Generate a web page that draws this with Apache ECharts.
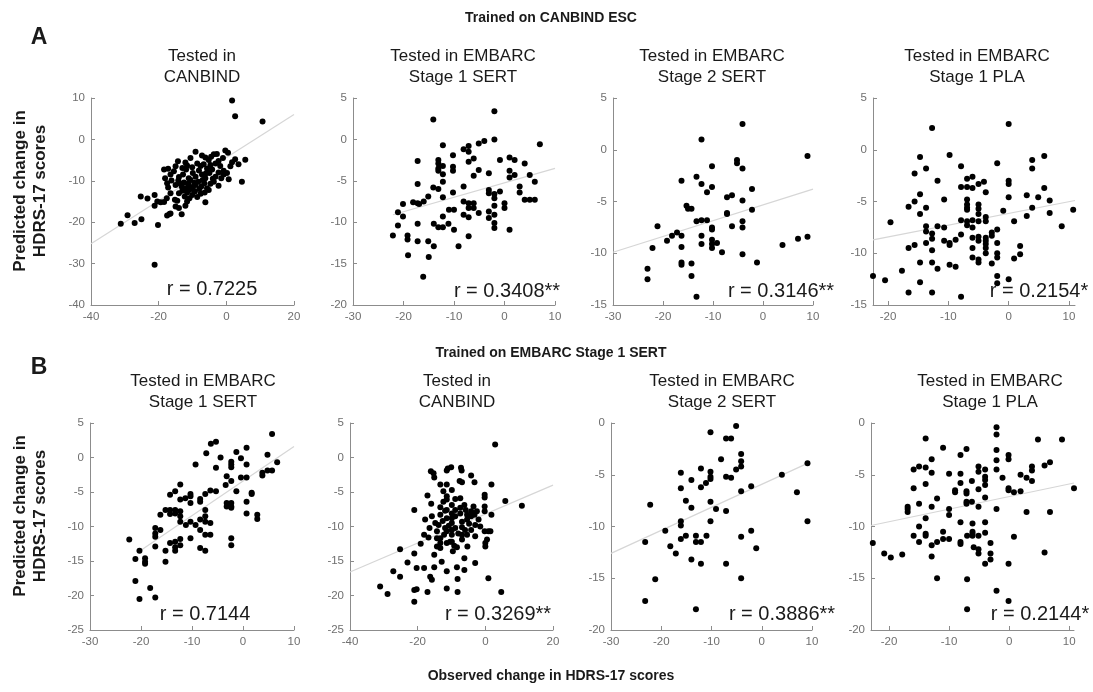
<!DOCTYPE html>
<html>
<head>
<meta charset="utf-8">
<script src="https://cdn.jsdelivr.net/npm/echarts@6/dist/echarts.min.js"></script>
<style>
html, body { margin: 0; padding: 0; background: #fff; }
#main { width: 1093px; height: 692px; }
</style>
</head>
<body>
<div id="main"></div>
<script>
// observed (x) vs predicted (y) change
var ptsA1 = [[1.7,9.4],[2.6,5.6],[10.7,4.3],[5.6,-4.9],[4.6,-10.2],[0.7,-9.6],[-21.2,-30.3],
  [-31.2,-20.4],[-29.2,-18.3],[-27.1,-20.2],[-25.1,-19.3],[-25.3,-13.8],[-23.3,-14.3],[-21.2,-13.4],[-21.2,-16],
  [-20.4,-15],[-19.4,-15.2],[-20.2,-20.7],[-18.4,-15.1],[-17.6,-14.2],[-17.5,-18.4],[-16.5,-17.9],[-13.2,-18.1],
  [-15,-16.2],[-14.5,-14.8],[-14,-13],[-14,-16.6],[-16.8,-18],[-11.6,-15],[-12.1,-16],
  [-9.1,-3.0],[-7.2,-3.9],[-6.2,-4.4],[-3.7,-3.6],[-0.3,-2.7],[0.5,-3.2],[-12.1,-5.6],[-10.6,-4.5],[-14.3,-5.3],
  [-5.2,-5.0],[-2.3,-5.2],[1.7,-5.5],[2.6,-4.8],[1.2,-6.5],
  [-17.2,-7.1],[-15,-6.5],[-13,-6.9],[-11.6,-6.3],[-10.1,-6.7],[-8.6,-5.8],[-7.6,-6.4],[-6.7,-6.0],[-5.7,-7.0],
  [-4.7,-6.2],[-3.2,-5.8],[-1.8,-6.4],[-0.8,-7.6],[0.2,-8.1],[3.6,-6.0],
  [-18.1,-9.4],[-16.5,-8.5],[-15.5,-7.7],[-14,-9.1],[-12.8,-8.5],[-11.9,-7.3],[-11.1,-9.4],[-9.9,-8.1],[-9.1,-9],
  [-8.1,-7.5],[-7.2,-8.5],[-6.2,-9.4],[-5,-8.1],[-4.2,-7.3],[-3.2,-9.0],[-2.3,-8],[-1.5,-9.4],[-0.8,-8.5],
  [-17.5,-10.6],[-16.2,-9.9],[-15,-11],[-14.2,-9.9],[-13.2,-11.4],[-12.5,-10.4],[-12,-11.8],[-11.3,-10.7],
  [-10.6,-9.8],[-9.9,-12],[-9.1,-11],[-8.3,-10.2],[-7.4,-11.4],[-6.5,-10.6],[-5.7,-11.8],[-4.7,-10.7],[-3.7,-10.2],
  [-2.3,-11.2],[-16.5,-13],[-15.2,-14.6],[-13,-12.4],[-12.3,-13.8],[-11.6,-12.8],[-10.9,-14.2],[-10.1,-13.4],
  [-9.3,-12.6],[-8.6,-13.9],[-7.6,-13.1],[-6.4,-12.8],[-5.2,-12.2],[-6.2,-15.2],
  [-10.5,-11.5],[-8,-12],[-11,-12.2],[-7,-9.8],[-4,-9.5],[-13.8,-10.6],[-9.5,-10.5],[-6,-8.2],[-1,-4.5],
  [-4.5,-4.2],[-2.8,-3.5],[-18.4,-7.3],[-17.2,-11.6]];
var ptsA2 = [[-22.1,-11.6],[-21.1,-8.8],[-21.1,-10.4],[-20.1,-7.8],[-20.1,-9.3],[-19.2,-11.6],[-19.2,-12.1],
  [-19.1,-14],[-18.1,-7.6],[-17.2,-2.6],[-17.2,-5.4],[-17.2,-7.7],[-17.2,-10.2],[-17.2,-12.3],[-16.9,-7.8],
  [-16,-7.5],[-16.1,-16.6],[-15.1,-6.9],[-15.1,-12.3],[-15,-14.2],[-14.1,2.4],[-14.1,-5.8],[-14,-10.2],[-14,-12.9],
  [-13.1,-2.5],[-13.1,-2.9],[-13.1,-3.5],[-13.1,-3.8],[-13.1,-6.0],[-13.1,-10.6],[-12.2,-0.7],[-12.2,-3.2],
  [-12.2,-4.2],[-12.2,-5.1],[-12.2,-7],[-12.2,-9.3],[-12.2,-10.6],[-11.1,-10.2],[-11,-8.5],[-10.2,-1.9],
  [-10.2,-3.3],[-10.2,-3.8],[-10.2,-6.4],[-10,-8.5],[-10,-10.9],[-9.1,-12.9],[-8.1,-5.7],[-8.1,-1.2],[-8.1,-7.5],
  [-8.1,-9.1],[-7.1,-0.8],[-7.1,-1.5],[-7.1,-2.7],[-7.1,-7.7],[-7.1,-8.3],[-7.1,-9.4],[-7.1,-11.7],[-6.1,-2.3],
  [-6.1,-4.4],[-6.1,-7.7],[-6.1,-8.3],[-5.1,-3.7],[-5.1,-8.9],[-5.1,-0.5],[-4,-0.2],[-3.1,-4.1],[-3.1,-6.1],
  [-3.1,-6.5],[-3.1,-8.7],[-3.1,-9.5],[-2,3.4],[-2,0],[-2,-6.6],[-2,-7.1],[-2,-8.0],[-2,-9.1],[-2,-10.1],[-2,-10.7],
  [-0.9,-6.3],[-0.9,-2.5],[0,-7.7],[0,-8.3],[1,-10.9],[1,-2.2],[1,-3.8],[1,-4.6],[2,-2.5],[2,-4.3],[3,-5.7],
  [3,-6.4],[4,-2.9],[4,-7.3],[5,-7.3],[6,-7.3],[6,-5.1],[7,-0.6],[5,-4.3]];
var ptsA3 = [[-23.1,-11.5],[-23.1,-12.5],[-22.1,-9.5],[-21.1,-7.4],[-19.2,-8.8],[-18.2,-8.3],[-17.2,-8.0],
  [-16.3,-3.0],[-16.3,-8.3],[-16.3,-9.4],[-16.3,-10.9],[-16.3,-11.1],[-15.3,-5.4],[-15,-5.7],[-14.3,-5.7],
  [-14.3,-11],[-14.3,-12.2],[-13.3,-2.6],[-13.3,-6.9],[-13.3,-14.2],[-12.3,1.0],[-12.3,-3.3],[-12.3,-6.8],
  [-12.3,-8.3],[-12.3,-9.1],[-11.2,-6.8],[-11.2,-4.1],[-10.2,-3.6],[-10.2,-1.6],[-10.2,-7.5],[-10.2,-7.7],
  [-10.2,-8.7],[-10.2,-9.1],[-10.2,-9.5],[-9.2,-9.0],[-8.2,-9.9],[-7.2,-4.6],[-7.2,-6.1],[-7.2,-6.2],[-6.2,-4.4],
  [-6.2,-7.4],[-5.2,-1.0],[-5.2,-1.3],[-4.1,-1.8],[-4.1,-4.9],[-4.1,-6.9],[-4.1,-7.5],[-4.1,-10.1],[-2.2,-3.8],
  [-2.2,-5.8],[-1.2,-10.9],[3.9,-9.2],[7,-8.6],[8.9,-8.4],[8.9,-0.6],[-4.1,2.5]];
var ptsA4 = [[-22.5,-12.2],[-20.5,-12.6],[-19.6,-7.0],[-17.7,-11.7],[-16.6,-5.5],[-16.6,-9.5],[-16.6,-13.8],
  [-15.6,-2.3],[-15.6,-5.0],[-15.6,-9.2],[-14.7,-0.7],[-14.7,-4.3],[-14.7,-6.2],[-14.7,-10.9],[-14.7,-12.8],
  [-13.7,-1.8],[-13.7,-5.6],[-13.7,-7.4],[-13.7,-7.9],[-13.7,-9.0],[-12.7,2.1],[-12.7,-8.1],[-12.7,-8.6],
  [-12.7,-9.7],[-12.7,-10.9],[-12.7,-13.8],[-11.8,-3.0],[-11.8,-7.4],[-11.8,-11.5],[-10.7,-4.8],[-10.7,-7.5],
  [-10.7,-8.8],[-9.8,-0.5],[-9.8,-9.0],[-9.8,-9.2],[-9.8,-11.1],[-8.8,-8.7],[-8.8,-11.3],[-7.9,-1.6],[-7.9,-3.6],
  [-7.9,-6.8],[-7.9,-8.2],[-7.9,-14.2],[-6.9,-2.8],[-6.9,-3.6],[-6.9,-4.8],[-6.9,-5.3],[-6.9,-5.6],[-6.9,-5.8],
  [-6.9,-6.9],[-6.9,-7.3],[-6,-2.6],[-6,-3.7],[-6,-6.8],[-6,-7.5],[-6,-8.5],[-6,-9.5],[-6,-10.4],[-5,-3.3],
  [-5,-5.3],[-5,-5.7],[-5,-6.2],[-5,-6.9],[-5,-8.4],[-5,-8.8],[-5,-10.6],[-5,-10.9],[-4.1,-3.1],[-3.8,-4.1],
  [-3.8,-6.5],[-3.8,-6.9],[-3.8,-8.5],[-3.8,-8.8],[-3.8,-9.1],[-3.8,-9.5],[-3.8,-10.0],[-2.8,-8.0],[-2.8,-8.3],
  [-2.8,-11.0],[-1.9,-1.3],[-1.9,-7.7],[-1.9,-9.0],[-1.9,-10.0],[-1.9,-10.4],[-1.9,-12.2],[-1.9,-12.9],
  [-0.9,-5.9],[0,2.5],[0,-3.0],[0,-3.3],[0,-4.6],[0,-12.5],[0.9,-6.9],[0.9,-10.5],[1.9,-10.1],[1.9,-9.3],
  [3,-4.4],[3,-6.4],[3.9,-5.6],[3.9,-1.0],[3.9,-1.8],[4.9,-4.6],[5.9,-0.6],[5.9,-3.7],[6.8,-4.9],[6.8,-6.1],
  [8.8,-7.4],[10.7,-5.8]];
var ptsB1 = [[-22.3,-11.9],[-21.1,-14.7],[-21.1,-17.9],[-20.3,-13.5],[-20.3,-20.5],[-19.2,-14.6],[-19.2,-15.1],
  [-19.2,-15.4],[-18.2,-18.9],[-17.2,-20.3],[-17.2,-10.2],[-17.2,-11],[-17.2,-11.5],[-17.2,-12.9],[-16.2,-10.5],
  [-16.2,-8.3],[-15.2,-7.6],[-15.2,-13.5],[-15.2,-15.1],[-14.3,-5.4],[-14.3,-7.6],[-14.3,-8.2],[-14.3,-12.4],
  [-13.3,-4.9],[-13.3,-7.6],[-13.3,-8.1],[-13.3,-12.2],[-13.3,-13],[-13.3,-13.5],[-12.3,-3.9],[-12.3,-6.1],
  [-12.3,-7.8],[-12.3,-8.5],[-12.3,-9.3],[-12.3,-11.8],[-12.3,-12.7],[-11.3,-5.9],[-11.2,-9.8],[-10.3,-5.3],
  [-10.3,-5.6],[-10.3,-6.6],[-10.3,-9.3],[-10.3,-11.7],[-9.3,-1.0],[-9.3,-9.8],[-8.4,-6],[-8.4,-6.4],[-8.4,-9.0],
  [-8.4,-10.5],[-8.4,-13.1],[-7.4,-5.3],[-7.4,-7.6],[-7.4,-8.5],[-7.4,-9.3],[-7.4,-11.2],[-7.4,-13.5],[-7.2,0.6],
  [-6.4,-4.8],[-6.4,-9.5],[-6.4,-11.2],[-6.3,2],[-5.3,2.3],[-5.3,-1.5],[-5.3,-4.9],[-4.4,0],[-3.4,-4.0],
  [-3.2,-2.7],[-3.2,-6.6],[-3.2,-7.1],[-2.3,-0.6],[-2.3,-1],[-2.3,-1.4],[-2.3,-3.4],[-2.3,-6.6],[-2.3,-7.1],
  [-2.3,-7.3],[-2.3,-11.7],[-2.3,-12.7],[-1.3,0.8],[-1.3,-4.9],[-0.4,-0.1],[-0.4,-2.9],[0.7,1.4],[0.7,-1],
  [0.7,-2.9],[0.7,-6.4],[0.7,-8.1],[1.7,-5.1],[1.7,-5.3],[2.8,-8.3],[2.8,-8.9],[3.8,-2.2],[3.8,-2.6],[4.8,0.4],
  [4.8,-1.9],[5.7,3.4],[5.7,-1.9],[6.7,-0.7]];
var ptsB2 = [[-31.1,-18.7],[-28.9,-19.8],[-25.2,-13.3],[-27.2,-16.5],[-25.2,-17.3],[-23,-15.2],[-21,-7.6],
  [-21,-13.9],[-21,-19.2],[-20.3,-19.1],[-21,-20.9],[-20.3,-16.0],[-19.1,-12.5],[-18.1,-16],[-18.1,-11.2],
  [-17.1,-19.5],[-17.1,-5.5],[-16.8,-11.6],[-16.3,-17.3],[-15.8,-17.7],[-16.1,-2],[-15.3,-2.3],[-15.1,-2.9],
  [-15.1,-14.1],[-15.1,-15.9],[-16.0,-6.7],[-15.8,-8.5],[-14.8,-9.5],[-14.3,-10.7],[-14.3,-11.7],[-14.3,-12.9],
  [-13.3,-3.9],[-13.3,-7.2],[-13.3,-8.3],[-13.3,-11.7],[-13.3,-12.4],[-13.3,-13.1],[-12.9,-15.1],[-12.4,-4.9],
  [-12.4,-6.4],[-11.9,-7.7],[-11.9,-10.2],[-11.4,-1.9],[-11.1,-1.6],[-11.4,-3.9],[-11.4,-5.6],[-11.4,-6.1],
  [-11.4,-7.6],[-11.4,-8.8],[-11.4,-10.7],[-11.4,-12.4],[-11.4,-16.5],[-11.4,-19],[-10.4,-12.2],[-10.1,-1.4],
  [-9.9,-4.7],[-9.9,-6.9],[-9.9,-8.1],[-9.9,-8.8],[-9.9,-9.5],[-9.9,-10.5],[-9.9,-11.2],[-9.9,-12.2],[-9.6,-13.6],
  [-8.9,-6],[-8.9,-7.6],[-8.9,-8.5],[-8.9,-10.2],[-8.4,-13],[-8.4,-15.9],[-8.2,-17.6],[-8.2,-19.5],[-7.6,-3.4],
  [-7.4,-5.9],[-7.4,-7.3],[-7.4,-8.1],[-7.2,-1.5],[-7,-1.9],[-6.9,-3.6],[-6.9,-9.3],[-6.9,-10.1],[-6.9,-11.2],
  [-6.9,-11.9],[-6.2,-6.9],[-6.2,-14.6],[-6.2,-16.3],[-5.4,-8.3],[-5.4,-9.0],[-5.4,-11.2],[-5.3,-12.9],
  [-4.2,-2.6],[-4.2,-7.8],[-4.2,-8.5],[-4.2,-10.5],[-3.5,-7.1],[-3.2,-3.6],[-3.2,-8.3],[-3,-9.8],[-3,-11.4],
  [-3,-15.3],[-2.5,-7.8],[-1.5,-10],[-0.2,-5.4],[-0.2,-5.8],[-0.2,-7.1],[-0.2,-7.8],[-0.2,-10.7],[0,-12.4],
  [0,-12.9],[0.5,-11.9],[0.9,-10.7],[0.9,-17.5],[1.5,-10.7],[1.8,-8.3],[1.8,-3.9],[2.9,1.9],[4.7,-19.5],
  [5.9,-6.3],[10.8,-7],[-17.8,-9.0],[-16.5,-10.2],[-13.8,-9.8],[-12.6,-9.2],[-10.8,-9.9],[-8.0,-11.0],
  [-6.0,-10.5],[-4.8,-9.6],[-2.0,-9.0],[-12.2,-11.2],[-9.2,-12.8],[-5.8,-7.6]];
var ptsB3 = [[-23.2,-11.5],[-23.2,-17.2],[-22.2,-7.9],[-21.2,-15.1],[-19.2,-10.4],[-18.2,-11.9],[-17.1,-12.6],
  [-16.1,-4.8],[-16.1,-6.3],[-16.1,-9.5],[-16.1,-9.9],[-16.1,-11.2],[-15.1,-7.5],[-15.1,-10.9],[-14,-5.5],
  [-14,-8.2],[-14,-13.2],[-13.1,-10.9],[-13.1,-11.5],[-13.1,-18],[-12.1,-4.4],[-12.1,-6.2],[-12.1,-11.5],
  [-12.1,-13.6],[-11.1,-5.8],[-11,-10.9],[-10.2,-0.9],[-10.2,-4.7],[-10.2,-5.2],[-10.2,-5.4],[-10.2,-7.6],
  [-10.2,-9.5],[-9.1,-8.3],[-8.1,-3.5],[-7.1,-1.5],[-6.1,-1.5],[-7.1,-8.5],[-7.1,-13.6],[-6.1,-5.3],[-7.1,-5.2],
  [-5.1,-0.3],[-5.1,-4.5],[-4.1,-3],[-4.1,-3.7],[-4.1,-4.2],[-4.1,-6.6],[-4.1,-11],[-4.1,-15],[-2.1,-6.1],
  [-2.1,-10.4],[-1.1,-12.1],[4,-5],[7,-6.7],[9.1,-3.9],[9.1,-9.5]];
var ptsB4 = [[-22.7,-11.6],[-20.8,-12.6],[-19.7,-13.0],[-17.8,-12.7],[-16.9,-8.1],[-16.9,-8.3],[-16.9,-8.6],
  [-15.9,-6.3],[-15.9,-4.5],[-15.9,-10.9],[-15,0.2],[-15,-4.2],[-15,-7.8],[-15,-10],[-15,-11.5],[-13.9,-1.5],
  [-13.9,-4.3],[-13.9,-5.9],[-13.9,-9.2],[-13.9,-10.7],[-13.9,-10.9],[-12.9,-3.5],[-12.9,-4.8],[-12.9,-8.1],
  [-12.9,-11.8],[-12.9,-12.9],[-12,-7.3],[-12,-11.5],[-12,-15],[-11,-2.4],[-11,-10.5],[-11,-11.2],[-10,-4.9],
  [-10,-8.3],[-10,-8.9],[-10,-11.2],[-9,-6.5],[-9,-6.7],[-8.1,-3.1],[-8.1,-4.9],[-8.1,-5.8],[-8.1,-9.6],
  [-8.1,-11.5],[-8.1,-11.7],[-7.1,-2.5],[-7.1,-6.6],[-7.1,-6.8],[-7.1,-7.6],[-7.1,-7.8],[-7,-10.9],[-7,-15.1],
  [-7,-18],[-6.2,-5.6],[-6.2,-7.6],[-6.1,-9.7],[-6.1,-10.5],[-6.1,-10.7],[-6.1,-10.9],[-5.9,-12],[-5.1,-4.2],
  [-5.1,-4.7],[-5.1,-6.4],[-5.1,-8.1],[-5.1,-10.9],[-5.1,-12.2],[-5.1,-12.6],[-4,-4.5],[-4,-5.2],[-4,-5.5],
  [-4,-6],[-4,-7.2],[-4,-9.6],[-4,-10.6],[-4,-13.6],[-3.1,-11.6],[-3.1,-12.6],[-3.1,-13.2],[-2.1,-0.4],
  [-2.1,-1.1],[-2.1,-2.6],[-2.1,-3.6],[-2.1,-4.5],[-2.1,-8.3],[-2.1,-16.2],[-1.1,-5.3],[-0.1,-3.1],[-0.1,-3.5],
  [-0.1,-6.3],[-0.1,-6.5],[-0.1,-13.6],[-0.1,-17.2],[0.8,-6.7],[0.8,-11],[1.9,-6.6],[1.9,-5],[2.9,-5.3],
  [2.9,-8.6],[3.8,-5.6],[3.8,-4.2],[3.8,-4.6],[4.8,-1.6],[5.9,-4.1],[5.9,-12.5],[6.8,-3.8],[6.8,-8.6],
  [8.8,-1.6],[10.8,-6.3]];

// regression lines (end points)
var fitA1 = [[-40,-25.2],[20,6.0]];
var fitA2 = [[-22.1,-9.1],[10,-3.5]];
var fitA3 = [[-30,-9.9],[10,-3.8]];
var fitA4 = [[-22.5,-8.7],[11,-4.9]];
var fitB1 = [[-20.3,-13.6],[10,1.6]];
var fitB2 = [[-40,-16.6],[20,-4.0]];
var fitB3 = [[-30,-12.6],[9.1,-3.9]];
var fitB4 = [[-23,-9.9],[10.8,-5.8]];

var rLabels = ['r = 0.7225','r = 0.3408**','r = 0.3146**','r = 0.2154*',
               'r = 0.7144','r = 0.3269**','r = 0.3886**','r = 0.2144*'];
var titleLine1 = ['Tested in','Tested in EMBARC','Tested in EMBARC','Tested in EMBARC',
                  'Tested in EMBARC','Tested in','Tested in EMBARC','Tested in EMBARC'];
var titleLine2 = ['CANBIND','Stage 1 SERT','Stage 2 SERT','Stage 1 PLA',
                  'Stage 1 SERT','CANBIND','Stage 2 SERT','Stage 1 PLA'];
var headers = ['Trained on CANBIND ESC','Trained on EMBARC Stage 1 SERT'];

var allPts = [ptsA1,ptsA2,ptsA3,ptsA4,ptsB1,ptsB2,ptsB3,ptsB4];
var allFits = [fitA1,fitA2,fitA3,fitA4,fitB1,fitB2,fitB3,fitB4];

// panel boxes and axis ranges
var boxes = [
  {l:91,  t:98,  w:203, x:[-40,20,20], y:[-40,10,10]},
  {l:353, t:98,  w:202, x:[-30,10,10], y:[-20,5,5]},
  {l:613, t:98,  w:200, x:[-30,10,10], y:[-15,5,5]},
  {l:873, t:98,  w:202, x:[-22.5,11,10], y:[-15,5,5]},
  {l:90,  t:423, w:204, x:[-30,10,10], y:[-25,5,5]},
  {l:350, t:423, w:203, x:[-40,20,20], y:[-25,5,5]},
  {l:611, t:423, w:201, x:[-30,10,10], y:[-20,0,5]},
  {l:871, t:423, w:203, x:[-23,10.8,10], y:[-20,0,5]}
];
var titleX = [202,463,712,977,203,457,722,990];
var rPos = [[212,289],[507,291],[781,291],[1039,291],[205,614],[498,614],[782,614],[1040,614]];
var headerY = [18, 353];
var letterY = [38, 368];
var ylabY = [191, 516];

var FONT = 'Arial, "Liberation Sans", sans-serif';
var axisCol = '#8c8c8c';
var labCol = '#6f6f6f';

var grids = [], xAxes = [], yAxes = [], series = [], graphics = [];

function axisBase(r, frac) {
  var a = {
    type: 'value', min: r[0], max: r[1],
    axisLine: { show: true, onZero: false, lineStyle: { color: axisCol, width: 1 } },
    axisTick: { show: true, inside: true, length: 4, lineStyle: { color: axisCol } },
    splitLine: { show: false },
    axisLabel: { color: labCol, fontSize: 11.5, fontFamily: FONT, margin: 6 }
  };
  if (frac) {
    a.minInterval = r[2]; a.maxInterval = r[2];
    a.axisLabel.showMinLabel = false; a.axisLabel.showMaxLabel = false;
  } else {
    a.interval = r[2];
  }
  return a;
}

function txt(x, y, s, font, extra) {
  var g = { type: 'text', x: x, y: y, z: 10, style: { text: s, fill: '#1a1a1a', font: font,
    textAlign: 'center', textVerticalAlign: 'middle', align: 'center', verticalAlign: 'middle' } };
  if (extra) for (var k in extra) g[k] = extra[k];
  return g;
}

boxes.forEach(function (b, i) {
  grids.push({ left: b.l, top: b.t, width: b.w, height: 207, containLabel: false });
  var fx = (b.x[0] % b.x[2] !== 0) || (b.x[1] % b.x[2] !== 0);
  var xa = axisBase(b.x, fx); xa.gridIndex = i;
  var ya = axisBase(b.y, false); ya.gridIndex = i;
  xAxes.push(xa); yAxes.push(ya);
  series.push({
    type: 'line', xAxisIndex: i, yAxisIndex: i, data: allFits[i],
    symbol: 'none', silent: true, z: 1,
    lineStyle: { color: '#d6d6d6', width: 1.2 }
  });
  series.push({
    type: 'scatter', xAxisIndex: i, yAxisIndex: i, data: allPts[i],
    symbolSize: 6, z: 2, itemStyle: { color: '#000', opacity: 1 }
  });
  var ty = b.t - 42;
  graphics.push(txt(titleX[i], ty, titleLine1[i], '17px ' + FONT));
  graphics.push(txt(titleX[i], ty + 21, titleLine2[i], '17px ' + FONT));
  graphics.push(txt(rPos[i][0], rPos[i][1], rLabels[i], '20px ' + FONT));
});

[0, 1].forEach(function (k) {
  graphics.push(txt(551, headerY[k], headers[k], 'bold 14px ' + FONT));
  graphics.push(txt(39, letterY[k], k ? 'B' : 'A', 'bold 23px ' + FONT));
  graphics.push(txt(20, ylabY[k], 'Predicted change in', 'bold 17px ' + FONT, { rotation: Math.PI / 2 }));
  graphics.push(txt(40, ylabY[k], 'HDRS-17 scores', 'bold 17px ' + FONT, { rotation: Math.PI / 2 }));
});
graphics.push(txt(551, 676, 'Observed change in HDRS-17 scores', 'bold 14px ' + FONT));

var myChart = echarts.init(document.getElementById('main'), null, { renderer: 'canvas' });
myChart.setOption({
  animation: false,
  backgroundColor: '#fff',
  grid: grids,
  xAxis: xAxes,
  yAxis: yAxes,
  series: series,
  graphic: { elements: graphics }
});
</script>
</body>
</html>
